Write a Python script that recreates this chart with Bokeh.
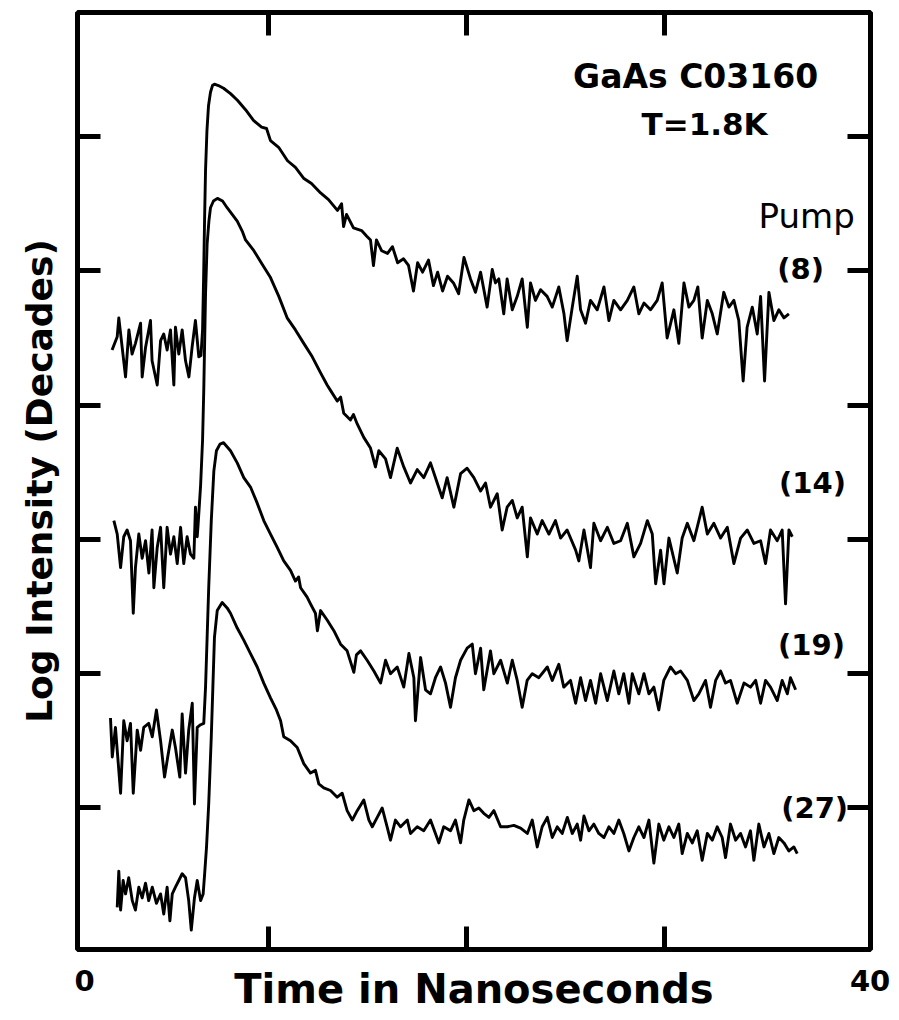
import math
from bokeh.plotting import figure
from bokeh.models import Range1d, LinearAxis, FixedTicker, Label
from bokeh.embed import file_html
from bokeh.resources import INLINE

# ---- data (time in ns, log intensity in decades) ----
x_ticks = [10, 20, 30]
y_ticks = [1, 2, 3, 4, 5, 6]
x_end_ticks = [0.707, 40.38]
x_end_labels = ["0", "40"]
pump_labels = ["(8)", "(14)", "(19)", "(27)"]

t_pump8 = [2.10, 2.36, 2.44, 2.61, 2.78, 2.95, 3.11, 3.28, 3.54, 3.62, 3.79, 4.04, 4.12, 4.38, 4.55, 4.71, 4.88, 5.05, 5.22, 5.30, 5.47, 5.64, 5.81, 5.98, 6.14, 6.31, 6.48,
           6.59, 6.67, 6.72, 6.77, 6.82, 6.89, 6.97, 7.07, 7.17, 7.27, 7.47,
           7.73, 8.08, 8.43, 8.84, 9.24, 9.65, 9.90, 10.10, 10.51, 10.96, 11.36, 11.77, 12.17, 12.63, 13.03, 13.48, 13.69, 13.79, 13.94, 14.29, 14.70, 14.95, 15.15, 15.30, 15.45, 15.71, 16.01, 16.26, 16.52, 16.82, 17.07, 17.32, 17.53, 17.78, 18.08, 18.33, 18.54, 18.79, 19.04, 19.34, 19.60,
           19.87, 20.20, 20.45, 20.71, 21.04, 21.30, 21.46, 21.63, 21.88, 22.05, 22.31, 22.56, 22.81, 23.07, 23.23, 23.48, 23.74, 24.07, 24.33, 24.66, 24.92, 25.08, 25.34, 25.59, 25.76, 26.01, 26.26, 26.60, 26.94, 27.19, 27.44, 27.78, 28.12, 28.45, 28.70, 28.96, 29.29, 29.63, 29.88, 30.13, 30.47, 30.72, 30.98, 31.23, 31.48, 31.68, 31.90, 32.16, 32.41, 32.66, 32.99, 33.25, 33.50, 33.75, 33.97, 34.17, 34.43, 34.68, 34.85, 35.05, 35.27, 35.52, 35.77, 36.03, 36.28]
v_pump8 = [4.41, 4.51, 4.65, 4.43, 4.21, 4.56, 4.38, 4.46, 4.61, 4.21, 4.43, 4.63, 4.33, 4.15, 4.48, 4.53, 4.41, 4.56, 4.15, 4.58, 4.38, 4.56, 4.33, 4.21, 4.43, 4.63, 4.36,
           4.37, 4.56, 4.93, 5.37, 5.75, 6.04, 6.23, 6.33, 6.38, 6.39, 6.38,
           6.36, 6.32, 6.27, 6.20, 6.12, 6.07, 6.06, 5.97, 5.92, 5.82, 5.77, 5.69, 5.65, 5.58, 5.53, 5.45, 5.50, 5.33, 5.42, 5.32, 5.30, 5.26, 5.23, 5.04, 5.23, 5.15, 5.13, 5.18, 5.06, 5.09, 5.04, 4.85, 5.06, 4.99, 5.08, 4.89, 4.99, 4.85, 4.96, 4.91, 4.83,
           5.10, 4.94, 4.84, 4.99, 4.73, 5.01, 4.91, 4.94, 4.68, 4.94, 4.71, 4.81, 4.94, 4.58, 4.91, 4.78, 4.86, 4.81, 4.73, 4.88, 4.68, 4.48, 4.73, 4.96, 4.71, 4.61, 4.78, 4.71, 4.88, 4.63, 4.78, 4.71, 4.78, 4.88, 4.68, 4.76, 4.71, 4.78, 4.91, 4.50, 4.71, 4.46, 4.91, 4.73, 4.78, 4.88, 4.50, 4.78, 4.68, 4.53, 4.84, 4.73, 4.78, 4.63, 4.18, 4.58, 4.73, 4.53, 4.81, 4.18, 4.84, 4.63, 4.71, 4.65, 4.68]

t_pump14 = [2.19, 2.36, 2.53, 2.69, 2.86, 3.03, 3.17, 3.28, 3.45, 3.62, 3.79, 3.96, 4.12, 4.21, 4.38, 4.55, 4.71, 4.88, 5.05, 5.22, 5.39, 5.56, 5.72, 5.89, 6.06, 6.23, 6.31, 6.40,
            6.44, 6.57, 6.67, 6.73, 6.82, 6.90, 6.99, 7.07, 7.22, 7.42, 7.68,
            7.91, 8.42, 8.69, 8.84, 9.26, 9.68, 10.10, 10.52, 10.94, 11.36, 11.78, 12.21, 12.63, 12.96, 13.13, 13.47, 13.64, 13.80, 14.14, 14.29, 14.48, 14.81, 15.15, 15.40, 15.57, 15.91, 16.16, 16.50, 16.83, 17.17, 17.51, 17.84, 18.18, 18.52, 18.77, 19.02, 19.36, 19.70, 20.03, 20.37, 20.71, 20.96, 21.21, 21.55, 21.80, 22.05, 22.31, 22.56, 22.81, 23.07, 23.23, 23.57, 23.82, 24.16, 24.49, 24.75, 25.08, 25.51, 25.67, 25.93, 26.26, 26.43, 26.77, 27.11, 27.44, 27.78, 28.12, 28.45, 28.79, 29.13, 29.38, 29.55, 29.80, 29.97, 30.22, 30.64, 30.89, 31.15, 31.48, 31.90, 32.16, 32.49, 32.83, 33.17, 33.50, 33.84, 34.18, 34.51, 34.85, 35.10, 35.35, 35.69, 35.94, 36.11, 36.28, 36.45]
v_pump14 = [3.14, 3.04, 2.79, 3.02, 3.07, 2.99, 2.45, 2.79, 3.04, 2.86, 2.99, 2.75, 3.07, 2.64, 2.94, 3.09, 2.64, 3.09, 2.89, 3.02, 2.82, 3.09, 2.82, 3.02, 2.89, 2.86, 3.24, 3.02,
            3.10, 3.40, 3.74, 4.11, 4.83, 5.20, 5.37, 5.47, 5.52, 5.54, 5.52,
            5.47, 5.37, 5.29, 5.23, 5.15, 5.05, 4.95, 4.81, 4.65, 4.56, 4.46, 4.36, 4.24, 4.15, 4.11, 4.03, 4.06, 3.94, 3.89, 3.93, 3.86, 3.76, 3.68, 3.54, 3.66, 3.60, 3.46, 3.68, 3.54, 3.42, 3.52, 3.46, 3.57, 3.42, 3.31, 3.46, 3.24, 3.49, 3.53, 3.46, 3.36, 3.42, 3.24, 3.34, 3.07, 3.24, 3.29, 3.16, 3.24, 2.87, 3.16, 3.04, 3.14, 3.04, 3.14, 3.01, 3.07, 2.92, 2.84, 3.07, 2.79, 3.12, 2.99, 3.09, 2.97, 2.99, 3.12, 2.87, 2.97, 3.14, 3.04, 2.67, 2.92, 2.67, 3.01, 2.75, 3.01, 3.12, 2.99, 3.24, 3.04, 3.12, 3.01, 3.09, 2.82, 3.01, 3.07, 2.97, 2.99, 2.82, 3.07, 2.99, 3.07, 2.52, 3.07, 3.02]

t_pump19 = [2.02, 2.11, 2.27, 2.53, 2.69, 2.86, 3.03, 3.17, 3.37, 3.54, 3.70, 3.95, 4.13, 4.34, 4.55, 4.75, 4.91, 5.14, 5.30, 5.52, 5.64, 5.81, 5.97, 6.15, 6.26, 6.40, 6.57, 6.73,
            6.82, 6.90, 6.98, 7.11, 7.24, 7.37, 7.55, 7.73,
            8.08, 8.42, 8.75, 9.09, 9.43, 9.76, 10.10, 10.44, 10.77, 11.11, 11.36, 11.52, 11.62, 11.95, 12.12, 12.37, 12.47, 12.63, 12.96, 13.30, 13.64, 13.97, 14.31, 14.44, 14.65, 14.98, 15.32, 15.66, 15.91, 16.16, 16.50, 16.83, 17.09, 17.34, 17.42, 17.68, 17.93, 18.18, 18.43, 18.69, 18.94, 19.19, 19.44, 19.70, 20.03, 20.29, 20.45, 20.71, 20.87, 21.21, 21.38, 21.72, 22.06, 22.31, 22.56, 22.81, 23.06, 23.32, 23.65, 24.08, 24.33, 24.66, 24.91, 25.25, 25.51, 25.76, 26.01, 26.26, 26.52, 26.77, 27.11, 27.44, 27.69, 27.94, 28.20, 28.37, 28.70, 28.96, 29.21, 29.46, 29.71, 29.96, 30.30, 30.56, 30.81, 31.15, 31.48, 31.73, 32.07, 32.32, 32.58, 32.83, 33.08, 33.33, 33.67, 34.01, 34.34, 34.60, 34.85, 35.10, 35.35, 35.69, 35.94, 36.20, 36.36, 36.62]
v_pump19 = [1.67, 1.38, 1.60, 1.11, 1.65, 1.50, 1.63, 1.11, 1.58, 1.43, 1.60, 1.63, 1.53, 1.73, 1.50, 1.23, 1.38, 1.58, 1.45, 1.23, 1.70, 1.26, 1.58, 1.78, 1.03, 1.60, 1.62, 1.63,
            1.90, 2.27, 2.64, 3.14, 3.51, 3.66, 3.71, 3.72,
            3.66, 3.57, 3.46, 3.39, 3.27, 3.14, 3.04, 2.94, 2.84, 2.77, 2.69, 2.72, 2.64, 2.57, 2.52, 2.45, 2.32, 2.47, 2.40, 2.32, 2.22, 2.17, 2.01, 2.14, 2.17, 2.10, 2.02, 1.93, 2.10, 2.00, 2.05, 1.90, 2.15, 1.97, 1.65, 2.12, 1.88, 1.85, 1.97, 2.05, 1.93, 1.75, 1.97, 2.10, 2.19, 2.22, 2.00, 2.19, 1.88, 2.17, 2.00, 2.10, 1.93, 2.10, 1.95, 1.75, 1.95, 2.00, 1.97, 2.05, 1.95, 2.07, 1.90, 1.95, 1.78, 1.97, 1.80, 1.95, 1.78, 2.00, 1.80, 2.02, 1.85, 2.00, 1.78, 2.00, 1.85, 2.00, 1.85, 1.90, 1.73, 1.95, 2.05, 2.00, 2.02, 1.95, 1.80, 1.85, 1.95, 1.75, 1.95, 2.02, 1.93, 1.95, 1.78, 1.93, 1.90, 1.95, 1.78, 1.95, 1.90, 1.80, 1.95, 1.85, 1.97, 1.88]

t_pump27 = [2.36, 2.44, 2.53, 2.66, 2.78, 2.94, 3.12, 3.28, 3.45, 3.62, 3.79, 3.95, 4.13, 4.34, 4.55, 4.71, 4.88, 5.02, 5.14, 5.30, 5.47, 5.64, 5.81, 5.97, 6.10, 6.26, 6.40, 6.57, 6.70,
            6.77, 6.87, 6.98, 7.11, 7.19, 7.27, 7.41, 7.66, 7.91,
            8.08, 8.42, 8.75, 9.09, 9.43, 9.76, 10.10, 10.40, 10.61, 10.77, 11.11, 11.45, 11.78, 12.12, 12.37, 12.54, 12.79, 13.13, 13.47, 13.72, 13.97, 14.23, 14.48, 14.81, 15.07, 15.24, 15.49, 15.74, 15.99, 16.16, 16.41, 16.67, 17.01, 17.17, 17.51, 17.84, 18.18, 18.43, 18.60, 18.85, 19.19, 19.44, 19.70, 19.86, 20.12, 20.37, 20.62, 20.87, 21.13, 21.38, 21.72, 22.06, 22.39, 22.73, 23.07, 23.32, 23.57, 23.82, 24.08, 24.33, 24.58, 24.83, 25.09, 25.34, 25.59, 25.76, 25.93, 26.18, 26.43, 26.68, 26.94, 27.19, 27.44, 27.69, 27.94, 28.20, 28.45, 28.70, 28.96, 29.21, 29.46, 29.71, 29.96, 30.22, 30.47, 30.72, 30.89, 31.15, 31.40, 31.65, 31.90, 32.16, 32.41, 32.66, 32.91, 33.08, 33.33, 33.59, 33.84, 34.09, 34.34, 34.51, 34.76, 35.02, 35.27, 35.52, 35.77, 36.03, 36.28, 36.53, 36.70]
v_pump27 = [0.26, 0.53, 0.24, 0.46, 0.36, 0.48, 0.31, 0.24, 0.41, 0.33, 0.44, 0.31, 0.41, 0.29, 0.36, 0.21, 0.41, 0.16, 0.36, 0.41, 0.46, 0.51, 0.48, 0.31, 0.09, 0.33, 0.46, 0.31, 0.36,
            0.50, 0.71, 1.03, 1.53, 1.90, 2.27, 2.47, 2.53, 2.49,
            2.45, 2.34, 2.25, 2.15, 2.05, 1.93, 1.82, 1.73, 1.65, 1.53, 1.50, 1.45, 1.33, 1.26, 1.28, 1.18, 1.15, 1.13, 1.08, 1.11, 0.98, 0.91, 0.98, 1.06, 0.91, 0.86, 0.93, 1.00, 0.86, 0.76, 0.91, 0.86, 0.91, 0.81, 0.86, 0.83, 0.91, 0.81, 0.74, 0.86, 0.83, 0.91, 0.74, 0.91, 1.06, 0.98, 1.00, 0.96, 0.93, 0.98, 0.86, 0.86, 0.87, 0.85, 0.81, 0.91, 0.71, 0.86, 0.93, 0.78, 0.86, 0.81, 0.93, 0.81, 0.88, 0.76, 0.94, 0.83, 0.88, 0.81, 0.78, 0.86, 0.81, 0.91, 0.81, 0.68, 0.78, 0.86, 0.78, 0.91, 0.59, 0.88, 0.76, 0.86, 0.78, 0.88, 0.66, 0.81, 0.74, 0.83, 0.61, 0.81, 0.76, 0.86, 0.78, 0.63, 0.88, 0.76, 0.81, 0.71, 0.83, 0.61, 0.88, 0.71, 0.81, 0.66, 0.78, 0.74, 0.68, 0.71, 0.66]

FONT = "DejaVu Sans"

p = figure(width=899, height=1020,
           x_range=Range1d(0.354, 40.40), y_range=Range1d(-0.054, 6.924),
           output_backend="svg", toolbar_location=None,
           min_border_left=77, min_border_right=29, min_border_top=12, min_border_bottom=71,
           background_fill_color="white", border_fill_color="white")
p.grid.visible = False
p.outline_line_color = "black"
p.outline_line_width = 5

p.add_layout(LinearAxis(), "above")
p.add_layout(LinearAxis(), "right")

for ax in list(p.xaxis) + list(p.yaxis):
    ax.major_tick_in = 23
    ax.major_tick_out = 0
    ax.major_tick_line_width = 5
    ax.major_tick_line_color = "black"
    ax.minor_tick_line_color = None
    ax.axis_line_color = None
    ax.major_label_text_font_size = "0px"
    ax.major_label_text_color = None
    ax.major_label_standoff = 0

for ax in p.yaxis:
    ax.ticker = FixedTicker(ticks=y_ticks)
p.above[0].ticker = FixedTicker(ticks=x_ticks)

# bottom axis: inner ticks drawn as minor ticks, end labels "0" / "40" as major labels
bx = p.below[0]
bx.ticker = FixedTicker(ticks=x_end_ticks, minor_ticks=x_ticks)
bx.major_label_overrides = {x_end_ticks[0]: x_end_labels[0], x_end_ticks[1]: x_end_labels[1]}
bx.major_tick_line_color = None
bx.minor_tick_in = 23
bx.minor_tick_out = 0
bx.minor_tick_line_width = 5
bx.minor_tick_line_color = "black"
bx.major_label_text_font = FONT
bx.major_label_text_font_style = "bold"
bx.major_label_text_font_size = "29px"
bx.major_label_text_color = "black"
bx.major_label_standoff = 20
bx.axis_label = "Time in Nanoseconds"
bx.axis_label_text_font = FONT
bx.axis_label_text_font_style = "bold"
bx.axis_label_text_font_size = "40px"
bx.axis_label_text_color = "black"
bx.axis_label_standoff = -28

ly = p.left[0]
ly.axis_label = "Log Intensity (Decades)"
ly.axis_label_text_font = FONT
ly.axis_label_text_font_style = "bold"
ly.axis_label_text_font_size = "36px"
ly.axis_label_text_color = "black"
ly.axis_label_standoff = 18

for tt, vv in [(t_pump8, v_pump8), (t_pump14, v_pump14), (t_pump19, v_pump19), (t_pump27, v_pump27)]:
    p.line(tt, vv, line_color="black", line_width=2.9, line_join="round")

def lab(x, y, text, size, bold=True, align="center"):
    p.add_layout(Label(x=x, y=y, text=text, text_font=FONT, text_font_size=size,
                       text_font_style="bold" if bold else "normal", text_color="black",
                       text_align=align, text_baseline="alphabetic"))

lab(31.57, 6.446, "GaAs C03160", "33px")
lab(32.02, 6.096, "T=1.8K", "31px")
lab(34.75, 5.405, "Pump", "34px", bold=False, align="left")
for (x, y), s in zip([(36.87, 5.017), (37.47, 3.423), (37.42, 2.217), (37.58, 1.003)], pump_labels):
    lab(x, y, s, "29px")

open("out.html", "w").write(file_html(p, INLINE))
